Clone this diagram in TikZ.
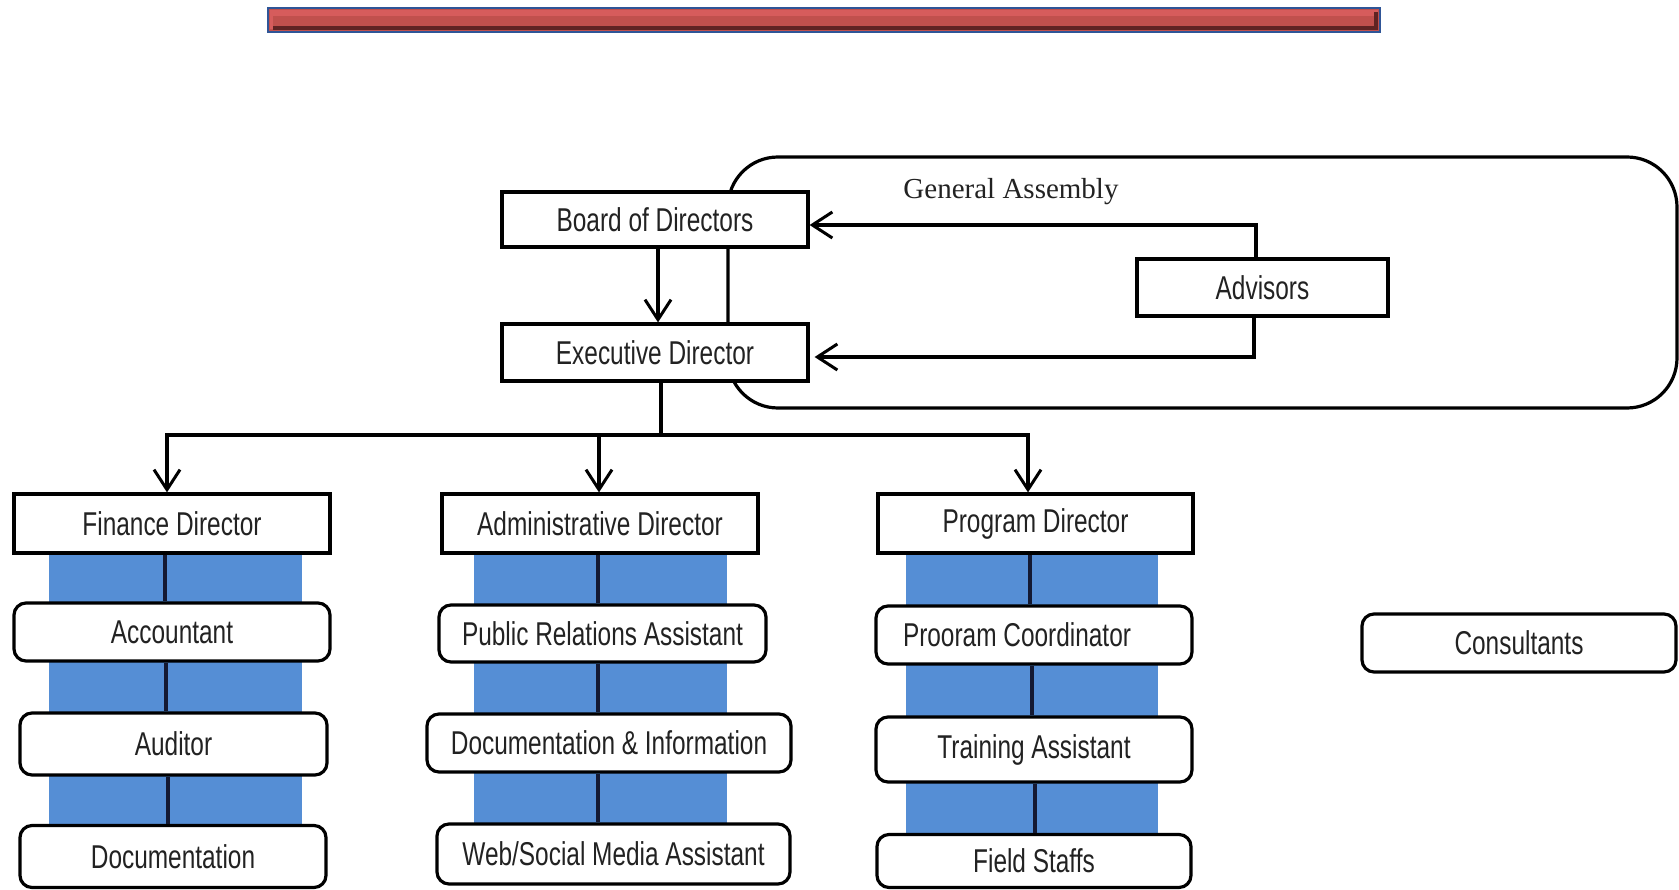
\documentclass[tikz,border=0pt]{standalone}
\usepackage{fontspec}
\setmainfont{Liberation Serif}
\newfontfamily\boxfont[FakeStretch=0.74]{Liberation Sans}
\usetikzlibrary{arrows.meta,backgrounds}
\definecolor{colblue}{RGB}{85,142,213}
\definecolor{barblue}{RGB}{47,85,151}
\definecolor{barred}{RGB}{192,80,77}
\definecolor{barlight}{RGB}{214,92,92}
\definecolor{bardark}{RGB}{95,35,35}
\definecolor{linenavy}{RGB}{20,25,50}
\definecolor{txt}{RGB}{34,34,34}
\begin{document}
\begin{tikzpicture}[x=1pt,y=-1pt,
  box/.style={draw=black,line width=3.2pt,fill=white,inner sep=0pt,
    font=\boxfont\fontsize{33}{36}\selectfont,text=txt},
  sqbox/.style={box},
  rbox/.style={box,rounded corners=12pt},
  conn/.style={line width=3.2pt},
  colconn/.style={line width=3.2pt,draw=linenavy},
  arr/.style={conn,-{Straight Barb[length=20pt,width=26pt,line width=3pt]}},
]
\useasboundingbox (0,0) rectangle (1679,890);

% top red bar
\draw[line width=2pt,draw=barblue,fill=barred] (268,8) rectangle (1380,32);
\fill[barlight] (270,10) rectangle (1378,16);
\fill[barlight] (270,10) rectangle (273,29);
\fill[bardark] (273,26.5) rectangle (1378,30.5);
\fill[bardark] (1374,12) rectangle (1378,30.5);

% top nodes
\node[sqbox,minimum width=306pt,minimum height=55pt] (board) at (655,219.5) {Board of Directors};
\node[sqbox,minimum width=306pt,minimum height=57pt] (exec) at (655,352.5) {Executive Director};
\node[sqbox,minimum width=251pt,minimum height=57pt] (adv) at (1262.5,287.5) {Advisors};

% directors
\node[sqbox,minimum width=316pt,minimum height=59pt] (fd) at (172,523.5) {Finance Director};
\node[sqbox,minimum width=316pt,minimum height=59pt] (ad) at (600,523.5) {Administrative Director};
\node[sqbox,minimum width=315pt,minimum height=59pt] (pd) at (1035.5,523.5) {Program Director};

% finance column
\node[rbox,minimum width=316pt,minimum height=58pt] (acc) at (172,632) {Accountant};
\node[rbox,minimum width=307pt,minimum height=62pt] (aud) at (173.5,744) {Auditor};
\node[rbox,minimum width=306pt,minimum height=62pt] (doc) at (173,856.5) {Documentation};

% admin column
\node[rbox,minimum width=327pt,minimum height=57pt] (pr) at (602.5,633.5) {Public Relations Assistant};
\node[rbox,minimum width=364pt,minimum height=58pt] (di) at (609,743) {Documentation \& Information};
\node[rbox,minimum width=353pt,minimum height=60pt] (web) at (613.5,854) {Web/Social Media Assistant};

% program column
\node[rbox,minimum width=316pt,minimum height=58pt] (pc) at (1034,635) {\hspace*{-34pt}Prooram Coordinator};
\node[rbox,minimum width=316pt,minimum height=65pt] (ta) at (1034,749.5) {Training Assistant};
\node[rbox,minimum width=314pt,minimum height=53pt] (fs) at (1034,861) {Field Staffs};

% consultants
\node[rbox,minimum width=314pt,minimum height=58pt] (cons) at (1519,643) {Consultants};

% General Assembly label
\node[font=\fontsize{29}{32}\selectfont,text=txt,inner sep=0pt] (ga) at (1011,192) {General Assembly};

\begin{scope}[on background layer]
  \fill[white] (0,0) rectangle (1679,890);
  \fill[colblue] (49,553) rectangle (302,826);
  \fill[colblue] (474,553) rectangle (727,824);
  \fill[colblue] (906,553) rectangle (1158,835);
  \draw[line width=3.2pt,rounded corners=50pt] (728,157) rectangle (1677,408);
\end{scope}

% connectors top
\draw[arr] ([xshift=3pt]board.south) -- ([xshift=3pt]exec.north);
\draw[arr] ([xshift=-6.5pt]adv.north) |- ([yshift=-5.5pt]board.east);
\draw[arr,shorten >=5pt] ([xshift=-8.5pt]adv.south) |- ([yshift=-4.5pt]exec.east);

\coordinate (bus) at (661,435);
\draw[conn] ([xshift=6pt]exec.south) -- (bus);
\draw[arr] (bus) -| ([xshift=-5pt]fd.north);
\draw[arr] (bus) -| ([xshift=-1pt]ad.north);
\draw[arr] (bus) -| ([xshift=-7.5pt]pd.north);

% column connectors
\draw[colconn] ([xshift=-7pt]fd.south) -- ([xshift=-7pt]acc.north);
\draw[colconn] ([xshift=-6pt]acc.south) -- ([xshift=-7.5pt]aud.north);
\draw[colconn] ([xshift=-5.5pt]aud.south) -- ([xshift=-5pt]doc.north);

\draw[colconn] ([xshift=-2pt]ad.south) -- ([xshift=-4.5pt]pr.north);
\draw[colconn] ([xshift=-4.5pt]pr.south) -- ([xshift=-11pt]di.north);
\draw[colconn] ([xshift=-11pt]di.south) -- ([xshift=-15.5pt]web.north);

\draw[colconn] ([xshift=-5.5pt]pd.south) -- ([xshift=-4pt]pc.north);
\draw[colconn] ([xshift=-2pt]pc.south) -- ([xshift=-2pt]ta.north);
\draw[colconn] ([xshift=1pt]ta.south) -- ([xshift=1pt]fs.north);
\end{tikzpicture}
\end{document}
